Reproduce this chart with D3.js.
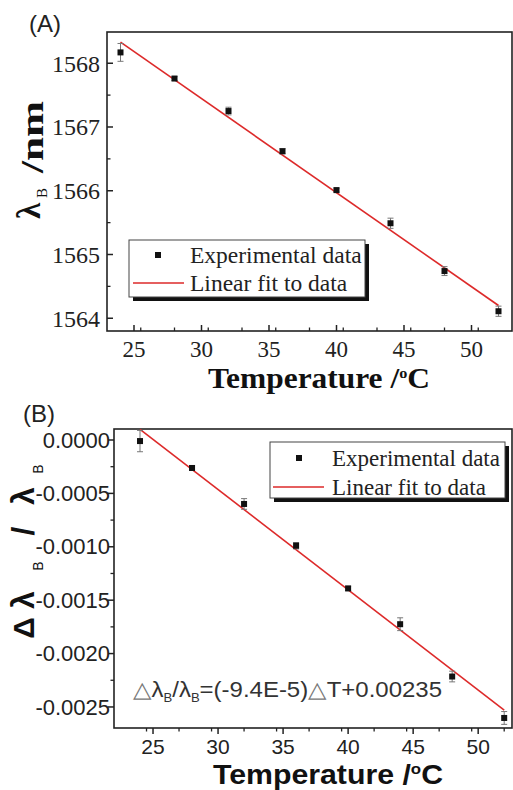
<!DOCTYPE html>
<html><head><meta charset="utf-8">
<script src="https://cdn.jsdelivr.net/npm/d3@7"></script>
<style>body{margin:0;background:#fff}svg{display:block}</style>
</head><body>
<svg id="c" width="513" height="790"></svg>
<script>
// ---- data ----
const temps = [24, 28, 32, 36, 40, 44, 48, 52];
const lambdaB = [1568.17, 1567.76, 1567.25, 1566.62, 1566.01, 1565.49, 1564.74, 1564.11];
const lambdaErr = [0.14, 0.03, 0.06, 0.04, 0.03, 0.08, 0.07, 0.08];
const fitAx = [24, 52];
const fitAy = [1568.33, 1564.20];
const relShift = [-0.00001, -0.000262, -0.000599, -0.00099, -0.00139, -0.001725, -0.002215, -0.002603];
const relErr = [0.0001, 0.00002, 0.00005, 0.00003, 0.00002, 0.00006, 0.00005, 0.00006];
const fitBx = [24, 52];
const fitBy = [0.0001, -0.00253];
const xTicksA = [25, 30, 35, 40, 45, 50];
const yTicksA = [1564, 1565, 1566, 1567, 1568];
const xTicksB = [25, 30, 35, 40, 45, 50];
const yTicksB = [0, -0.0005, -0.001, -0.0015, -0.002, -0.0025];
const legendLabels = ["Experimental data", "Linear fit to data"];

const svg = d3.select("#c");
const RED = "#dd2a2a";
const SERIF = "'Liberation Serif', 'Times New Roman', serif";
const SANS = "'Liberation Sans', Arial, sans-serif";

function panel(o) {
  const g = svg.append("g");
  const x = d3.scaleLinear().domain(o.xd).range([o.L, o.R]);
  const y = d3.scaleLinear().domain(o.yd).range([o.B, o.T]);
  g.append("rect").attr("x", o.L).attr("y", o.T).attr("width", o.R - o.L).attr("height", o.B - o.T)
    .attr("fill", "none").attr("stroke", "#222").attr("stroke-width", 1.6);
  const xs = o.xTickDir;
  const xMinor = d3.range(o.xd[0], o.xd[1] + 0.01, 2.5).filter(v => Math.abs(v / 5 - Math.round(v / 5)) > 0.01 && v > o.xd[0] && v < o.xd[1]);
  g.selectAll(".xt").data(o.xTicks).join("line").attr("x1", d => x(d)).attr("x2", d => x(d))
    .attr("y1", o.B).attr("y2", o.B + xs * 6).attr("stroke", "#222").attr("stroke-width", 1.5);
  g.selectAll(".xm").data(xMinor).join("line").attr("x1", d => x(d)).attr("x2", d => x(d))
    .attr("y1", o.B).attr("y2", o.B + xs * 3.5).attr("stroke", "#222").attr("stroke-width", 1.3);
  g.selectAll(".xl").data(o.xTicks).join("text").attr("x", d => x(d)).attr("y", o.B + o.xLabDy)
    .attr("text-anchor", "middle").attr("font-family", o.font).attr("font-size", o.xTickSize)
    .attr("fill", "#222").text(d => d);
  const ys = o.yTickDir;
  const yMinor = o.yMinor.filter(v => v > o.yd[0] && v < o.yd[1]);
  g.selectAll(".yt").data(o.yTicks).join("line").attr("y1", d => y(d)).attr("y2", d => y(d))
    .attr("x1", o.L).attr("x2", o.L + ys * 6).attr("stroke", "#222").attr("stroke-width", 1.5);
  g.selectAll(".ym").data(yMinor).join("line").attr("y1", d => y(d)).attr("y2", d => y(d))
    .attr("x1", o.L).attr("x2", o.L + ys * 3.5).attr("stroke", "#222").attr("stroke-width", 1.3);
  g.selectAll(".yl").data(o.yTicks).join("text").attr("x", o.L - o.yLabDx).attr("y", d => y(d))
    .attr("dy", "0.35em").attr("text-anchor", "end").attr("font-family", o.font)
    .attr("font-size", o.tickSize).attr("fill", "#222").text(o.yFmt);
  g.append("line").attr("x1", x(o.fx[0])).attr("y1", y(o.fy[0])).attr("x2", x(o.fx[1])).attr("y2", y(o.fy[1]))
    .attr("stroke", RED).attr("stroke-width", 1.6);
  const eb = g.selectAll(".eb").data(temps.map((t, i) => [t, o.vals[i], o.errs[i]])).join("g").attr("stroke", "#777").attr("stroke-width", 1);
  eb.append("line").attr("x1", d => x(d[0])).attr("x2", d => x(d[0])).attr("y1", d => y(d[1] - d[2])).attr("y2", d => y(d[1] + d[2]));
  eb.append("line").attr("x1", d => x(d[0]) - 3).attr("x2", d => x(d[0]) + 3).attr("y1", d => y(d[1] - d[2])).attr("y2", d => y(d[1] - d[2]));
  eb.append("line").attr("x1", d => x(d[0]) - 3).attr("x2", d => x(d[0]) + 3).attr("y1", d => y(d[1] + d[2])).attr("y2", d => y(d[1] + d[2]));
  g.selectAll(".pt").data(temps.map((t, i) => [t, o.vals[i]])).join("rect")
    .attr("x", d => x(d[0]) - 3).attr("y", d => y(d[1]) - 3).attr("width", 6).attr("height", 6).attr("fill", "#111");
  const lg = o.leg;
  g.append("rect").attr("x", lg.x + 4).attr("y", lg.y + 4).attr("width", lg.w).attr("height", lg.h).attr("fill", "#111");
  g.append("rect").attr("x", lg.x).attr("y", lg.y).attr("width", lg.w).attr("height", lg.h).attr("fill", "#fff").attr("stroke", "#444").attr("stroke-width", 1);
  g.append("rect").attr("x", lg.mx - 3).attr("y", lg.y1 - 3).attr("width", 6).attr("height", 6).attr("fill", "#111");
  g.append("line").attr("x1", lg.lx0).attr("x2", lg.lx1).attr("y1", lg.y2).attr("y2", lg.y2).attr("stroke", RED).attr("stroke-width", 1.6);
  g.selectAll(".lt").data(legendLabels).join("text").attr("x", lg.tx).attr("y", (d, i) => i ? lg.y2 : lg.y1)
    .attr("dy", "0.35em").attr("font-family", SERIF)
    .attr("font-size", lg.fs).attr("fill", "#222").text(d => d);
  return { g, x, y };
}

function rot(txt, bx, cy, size, weight, font, len) {
  const t = svg.append("text").attr("transform", `translate(${bx},${cy}) rotate(-90)`).attr("text-anchor", "middle")
    .attr("font-family", font).attr("font-weight", weight).attr("font-size", size).attr("fill", "#111").text(txt);
  if (len) t.attr("textLength", len).attr("lengthAdjust", "spacingAndGlyphs");
}

// Panel A
panel({
  L: 107, R: 512, T: 32, B: 331, xd: [23, 53], yd: [1563.8, 1568.49],
  xTicks: xTicksA, yTicks: yTicksA, yMinor: [1563.5, 1564.5, 1565.5, 1566.5, 1567.5, 1568.5],
  xTickDir: -1, yTickDir: 1, font: SERIF, tickSize: 24, xTickSize: 23,
  xLabDy: 26, yLabDx: 7, yFmt: d => d,
  vals: lambdaB, errs: lambdaErr, fx: fitAx, fy: fitAy,
  leg: { x: 129, y: 240, w: 236, h: 57, mx: 158, y1: 255, y2: 283, lx0: 133, lx1: 184, tx: 190, fs: 23.5 }
});
svg.append("text").attr("x", 29).attr("y", 32).attr("font-family", SANS)
  .attr("font-size", 24).attr("fill", "#222").text("(A)");
svg.append("text").attr("x", 319).attr("y", 388).attr("text-anchor", "middle")
  .attr("font-family", SERIF).attr("font-weight", "bold")
  .attr("font-size", 29).attr("fill", "#111").attr("textLength", 222).attr("lengthAdjust", "spacingAndGlyphs")
  .call(t => { t.append("tspan").text("Temperature /"); t.append("tspan").attr("font-size", 15).attr("dy", -10).text("o"); t.append("tspan").attr("dy", 10).text("C"); });
rot("λ", 40, 211, 33, "bold", SERIF);
rot("B", 47, 193, 15, "normal", SERIF);
rot("/nm", 43, 137, 32, "bold", SERIF, 72);

// Panel B
panel({
  L: 114, R: 512, T: 429, B: 728, xd: [22, 52.6], yd: [-0.002697, 0.000103],
  xTicks: xTicksB, yTicks: yTicksB, yMinor: [-0.00025, -0.00075, -0.00125, -0.00175, -0.00225, -0.00275],
  xTickDir: 1, yTickDir: -1, font: SANS, tickSize: 22, xTickSize: 21,
  xLabDy: 26, yLabDx: 4, yFmt: d => d3.format(".4f")(d).replace("−", "-"),
  vals: relShift, errs: relErr, fx: fitBx, fy: fitBy,
  leg: { x: 270, y: 442, w: 235, h: 56, mx: 299, y1: 458, y2: 487, lx0: 273, lx1: 324, tx: 332, fs: 23 }
});
svg.append("text").attr("x", 23).attr("y", 422).attr("font-family", SANS)
  .attr("font-size", 24).attr("fill", "#222").text("(B)");
svg.append("text").attr("x", 328).attr("y", 784).attr("text-anchor", "middle")
  .attr("font-family", SANS).attr("font-weight", "bold")
  .attr("font-size", 27).attr("fill", "#111").attr("textLength", 230).attr("lengthAdjust", "spacingAndGlyphs")
  .call(t => { t.append("tspan").text("Temperature /"); t.append("tspan").attr("font-size", 15).attr("dy", -10).text("o"); t.append("tspan").attr("dy", 10).text("C"); });
rot("Δ", 34, 628, 30, "bold", SANS);
rot("λ", 34, 600, 32, "bold", SANS);
rot("B", 43, 566, 14, "normal", SANS);
rot("/", 34, 531, 32, "bold", SANS);
rot("λ", 34, 496, 32, "bold", SANS);
rot("B", 43, 469, 14, "normal", SANS);
svg.append("text").attr("x", 133).attr("y", 697).attr("font-family", SANS)
  .attr("font-size", 22).attr("fill", "#333").attr("textLength", 309).attr("lengthAdjust", "spacingAndGlyphs")
  .call(t => {
    t.append("tspan").attr("fill", "#777").text("△");
    t.append("tspan").text("λ");
    t.append("tspan").attr("font-size", 12).attr("dy", 5).text("B");
    t.append("tspan").attr("dy", -5).text("/λ");
    t.append("tspan").attr("font-size", 12).attr("dy", 5).text("B");
    t.append("tspan").attr("dy", -5).text("=(-9.4E-5)");
    t.append("tspan").attr("fill", "#777").text("△");
    t.append("tspan").text("T+0.00235");
  });
</script>
</body></html>
